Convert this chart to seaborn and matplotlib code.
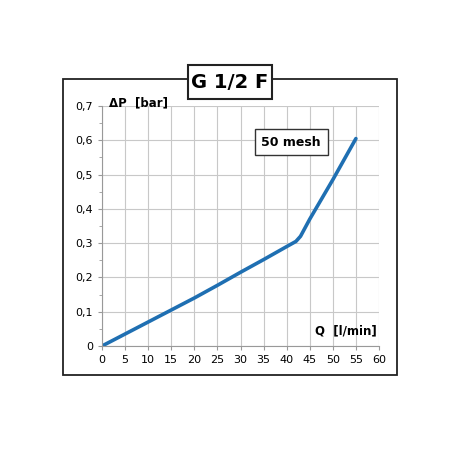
import matplotlib
matplotlib.use("Agg")
import matplotlib.pyplot as plt
from matplotlib.patches import Rectangle
import seaborn as sns
import pandas as pd

flow = [0, 5, 10, 15, 20, 25, 30, 35, 40, 42, 43, 45, 50, 55]
dp = [0, 0.035, 0.07, 0.105, 0.14, 0.177, 0.215, 0.252, 0.29, 0.305, 0.32, 0.37, 0.485, 0.605]
xticks = list(range(0, 61, 5))
yticks = [0, 0.1, 0.2, 0.3, 0.4, 0.5, 0.6, 0.7]
ylabels = ["0", "0,1", "0,2", "0,3", "0,4", "0,5", "0,6", "0,7"]

df = pd.DataFrame({"Q": flow, "dP": dp})

sns.set_style("white")
plt.rcParams["text.color"] = "black"
plt.rcParams["xtick.labelcolor"] = "black"
plt.rcParams["ytick.labelcolor"] = "black"
fig = plt.figure(figsize=(4.5, 4.5), dpi=100)
ax = fig.add_axes([102/450, 104/450, 277/450, 240/450])

sns.lineplot(data=df, x="Q", y="dP", ax=ax, color="#1f6fb2", linewidth=2.6)

ax.set_xlim(0, 60)
ax.set_ylim(0, 0.7)
ax.set_xticks(xticks)
ax.set_yticks(yticks)
ax.set_yticklabels(ylabels)
ax.set_yticks([0.05, 0.15, 0.25, 0.35, 0.45, 0.55, 0.65], minor=True)
ax.grid(True, color="#c8c8c8", linewidth=0.8)
ax.set_axisbelow(True)
for s in ["top", "right"]:
    ax.spines[s].set_visible(False)
for s in ["left", "bottom"]:
    ax.spines[s].set_color("#999999")
ax.tick_params(axis="both", which="both", labelsize=8, color="#999999", length=3, direction="out", left=True, bottom=True)
ax.tick_params(axis="y", which="minor", length=2)
ax.set_xlabel("")
ax.set_ylabel("")

ax.text(1.5, 0.69, "ΔP  [bar]", fontsize=8.5, fontweight="bold", va="bottom")
ax.text(59.5, 0.025, "Q  [l/min]", fontsize=8.5, fontweight="bold", ha="right", va="bottom")
ax.text(41, 0.595, "50 mesh", fontsize=9, fontweight="bold", ha="center", va="center",
        bbox=dict(boxstyle="square,pad=0.55", fc="white", ec="#333333", lw=1))

# outer frame and title box
fig.patches.append(Rectangle((63/450, 75/450), 334/450, 296/450, transform=fig.transFigure,
                             fill=False, ec="#222222", lw=1.3))
fig.patches.append(Rectangle((188/450, 351/450), 84/450, 34/450, transform=fig.transFigure,
                             fc="white", ec="#222222", lw=1.5, zorder=5))
fig.text(230/450, 368/450, "G 1/2 F", fontsize=14, fontweight="bold", ha="center", va="center", zorder=6)

fig.savefig("out.png", dpi=100)
